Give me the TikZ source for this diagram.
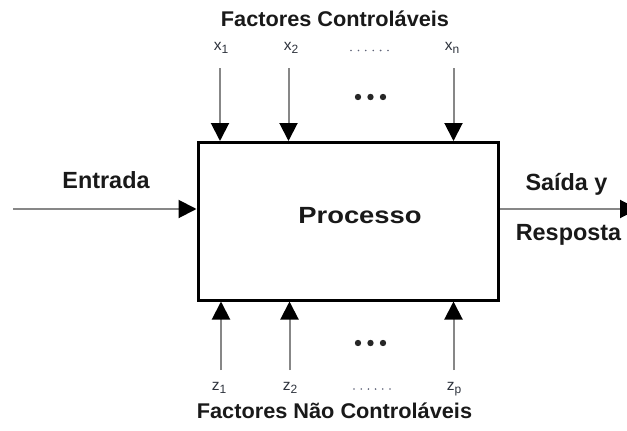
\documentclass[tikz,border=0pt]{standalone}
\usepackage{fontspec}
\setmainfont{Liberation Sans}
\usetikzlibrary{arrows.meta}
\definecolor{wire}{RGB}{135,135,135}
\definecolor{lbl}{RGB}{45,50,60}
\definecolor{dotc}{RGB}{95,100,120}
\newcommand{\sublow}[1]{\raisebox{-3.5pt}{\fontsize{12}{13}\selectfont #1}}
\tikzset{
  x=1pt, y=-1pt,
  heading/.style={anchor=base, inner sep=0pt, font=\bfseries\fontsize{21.3}{24}\selectfont, text=black!90},
  side/.style={anchor=base, inner sep=0pt, font=\bfseries\fontsize{23.4}{26}\selectfont, text=black!90},
  var/.style={anchor=base, inner sep=0pt, font=\fontsize{15.5}{17}\selectfont, text=lbl},
  procbox/.style={draw=black, line width=3pt, fill=white, inner sep=0pt,
                  minimum width=300.5pt, minimum height=157.5pt},
  feed/.style={draw=wire, line width=2pt,
               -{Triangle[length=18pt,width=18pt,color=black,fill=black]}},
  bigdot/.style={fill=black!85, radius=3.2pt},
  smalldot/.style={fill=dotc, radius=0.9pt}
}
\begin{document}
\begin{tikzpicture}
\useasboundingbox (0,0) rectangle (627,431);

% process block
\node[procbox] (box) at (348.25,221.25) {};
\node[side] (proc) at (360,223) {\scalebox{1.17}[1]{Processo}};

% headings
\node[heading] (ctl) at (335,27) {\scalebox{1.02}[1]{Factores Controláveis}};
\node[heading] (nctl) at (334.5,418) {\scalebox{1.02}[1]{Factores Não Controláveis}};

% input and output labels
\node[side] (inlbl) at (106,188) {Entrada};
\node[side] (outlbl) at (566.5,190) {Saída y};
\node[side] (resp) at (568.5,240) {Resposta};

% controllable factors
\node[var] (x1) at (221,50) {x\sublow{1}};
\node[var] (x2) at (291,50) {x\sublow{2}};
\node[var] (xn) at (452,50) {x\sublow{n}};
\coordinate (a1) at (220,68);
\coordinate (a2) at (288.5,68);
\coordinate (an) at (453.5,68);
\draw[feed] (a1) -- (a1 |- box.north);
\draw[feed] (a2) -- (a2 |- box.north);
\draw[feed] (an) -- (an |- box.north);

% uncontrollable factors
\node[var] (z1) at (219,390) {z\sublow{1}};
\node[var] (z2) at (290,390) {z\sublow{2}};
\node[var] (zp) at (454,390) {z\sublow{p}};
\coordinate (b1) at (221,370);
\coordinate (b2) at (289.5,370);
\coordinate (bp) at (453.5,370);
\draw[feed] (b1) -- (b1 |- box.south);
\draw[feed] (b2) -- (b2 |- box.south);
\draw[feed] (bp) -- (bp |- box.south);

% ellipses between the factor arrows
\foreach \cx in {358,370.5,383} {
  \fill[bigdot] (\cx,97) circle;
  \fill[bigdot] (\cx,343) circle;
}
\foreach \i in {0,...,5} {
  \fill[smalldot] (351+7.4*\i,50.5) circle;
  \fill[smalldot] (354+7.2*\i,389) circle;
}

% input and output flow
\coordinate (src) at (13,209);
\coordinate (dst) at (638,209);
\draw[feed] (src) -- (src -| box.west);
\draw[feed] (dst -| box.east) -- (dst);
\end{tikzpicture}
\end{document}
